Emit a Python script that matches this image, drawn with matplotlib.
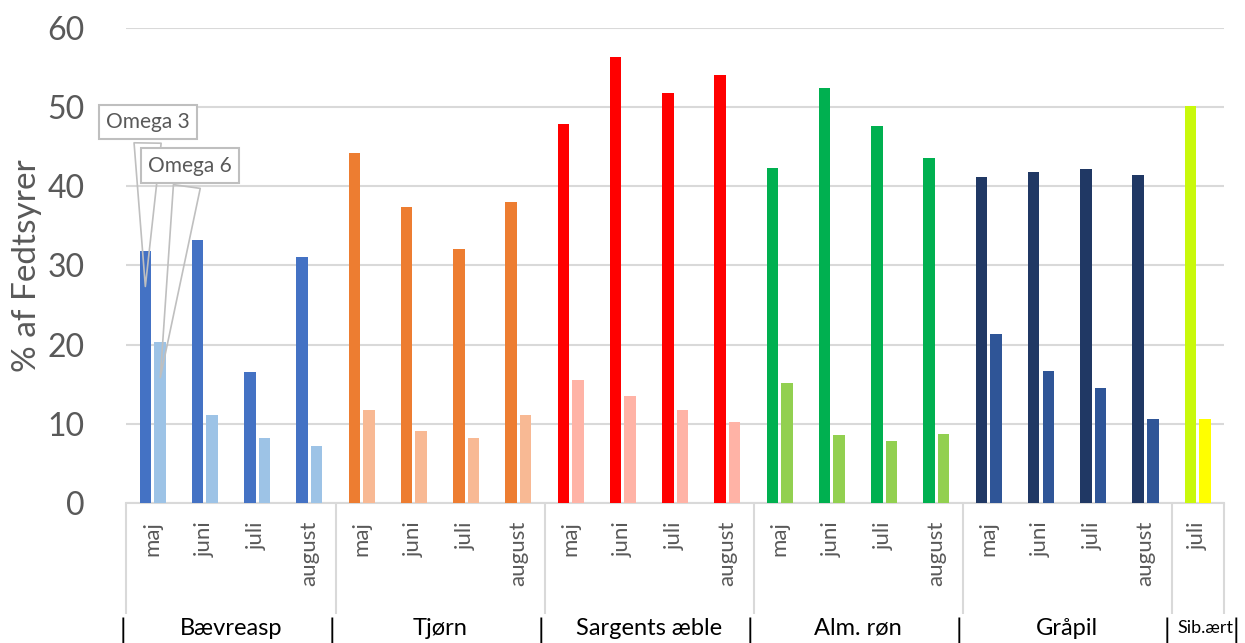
import numpy as np
import matplotlib.pyplot as plt
import matplotlib.transforms as mtransforms

plt.rcParams['font.family'] = ['Lato', 'DejaVu Sans']

# data
groups = ["Bævreasp", "Tjørn", "Sargents æble", "Alm. røn", "Gråpil", "Sib.ært"]
months = [["maj", "juni", "juli", "august"]] * 5 + [["juli"]]
omega3 = [[31.8, 33.2, 16.5, 31.1],
          [44.2, 37.4, 32.1, 38.0],
          [47.9, 56.3, 51.8, 54.0],
          [42.3, 52.4, 47.6, 43.6],
          [41.2, 41.8, 42.2, 41.4],
          [50.2]]
omega6 = [[20.3, 11.1, 8.2, 7.2],
          [11.7, 9.1, 8.2, 11.1],
          [15.5, 13.5, 11.7, 10.2],
          [15.2, 8.6, 7.8, 8.7],
          [21.3, 16.7, 14.5, 10.6],
          [10.6]]
dark_cols = ["#4472C4", "#ED7D31", "#FF0000", "#00B050", "#203864", "#C9F90B"]
light_cols = ["#9DC3E6", "#F8B994", "#FFB3A6", "#92D050", "#2F5597", "#FFFF00"]

fig = plt.figure(figsize=(12.45, 6.43), dpi=100)
ax = fig.add_axes([0.1016, 0.2177, 0.8814, 0.7388])

grid_c = "#D9D9D9"
txt_c = "#595959"
w = 0.22
off = 0.14

pos = 0
labels = []
bounds = [-0.5]
centers = []
for g in range(len(groups)):
    n = len(months[g])
    x = np.arange(pos, pos + n)
    ax.bar(x - off, omega3[g], width=w, color=dark_cols[g], zorder=3)
    ax.bar(x + off, omega6[g], width=w, color=light_cols[g], zorder=3)
    labels += months[g]
    centers.append(pos + (n - 1) / 2)
    pos += n
    bounds.append(pos - 0.5)

ax.set_xlim(-0.5, pos - 0.5)
ax.set_ylim(0, 60)
ax.set_yticks(np.arange(0, 61, 10))
ax.yaxis.grid(True, color=grid_c, lw=1.5, zorder=0)
ax.tick_params(axis='y', length=0, labelsize=23, labelcolor=txt_c, pad=30)
ax.set_ylabel("% af Fedtsyrer", fontsize=24, color=txt_c, labelpad=4)

ax.set_xticks(np.arange(pos))
ax.set_xticklabels(labels, rotation=90, fontsize=16, color=txt_c)
ax.tick_params(axis='x', which='major', length=0, pad=13)
ax.set_xticks(bounds, minor=True)
ax.tick_params(axis='x', which='minor', length=80, width=1.5, color=grid_c)

for s in ['top', 'right', 'left']:
    ax.spines[s].set_visible(False)
ax.spines['bottom'].set_color(grid_c)
ax.spines['bottom'].set_linewidth(1.5)

# group labels
trans = mtransforms.blended_transform_factory(ax.transData, fig.transFigure)
last = len(groups) - 1
for g, c in enumerate(groups):
    fs = 13 if g == last else 17
    xc = centers[g] + (0.15 if g == last else 0)
    ax.text(xc, 0.023, c, transform=trans, ha='center', va='center', fontsize=fs, color='black')
sep = bounds[:-1] + [bounds[-1] + 0.32]
for i, b in enumerate(sep):
    dx = -0.07 if i < len(sep) - 2 else -0.08
    ax.text(b + dx, 0.02, "|", transform=trans, ha='center', va='center', fontsize=19, color='black')

# callouts
box = dict(boxstyle='square,pad=0.35', fc='white', ec='#BFBFBF', lw=1.5)
wedge = dict(arrowstyle='wedge,tail_width=1.3,shrink_factor=0.5', fc='none',
             ec='#BFBFBF', lw=1.2, mutation_scale=15)
ax.annotate("Omega 3", xy=(-off, 27.0), xytext=(-0.09, 48.1), ha='center', va='center',
            fontsize=15, color=txt_c, bbox=box, zorder=5, arrowprops=wedge)
ax.annotate("Omega 6", xy=(off, 15.5), xytext=(0.71, 42.6), ha='center', va='center',
            fontsize=15, color=txt_c, bbox=box, zorder=5, arrowprops=wedge)

fig.savefig("out.png", dpi=100)
